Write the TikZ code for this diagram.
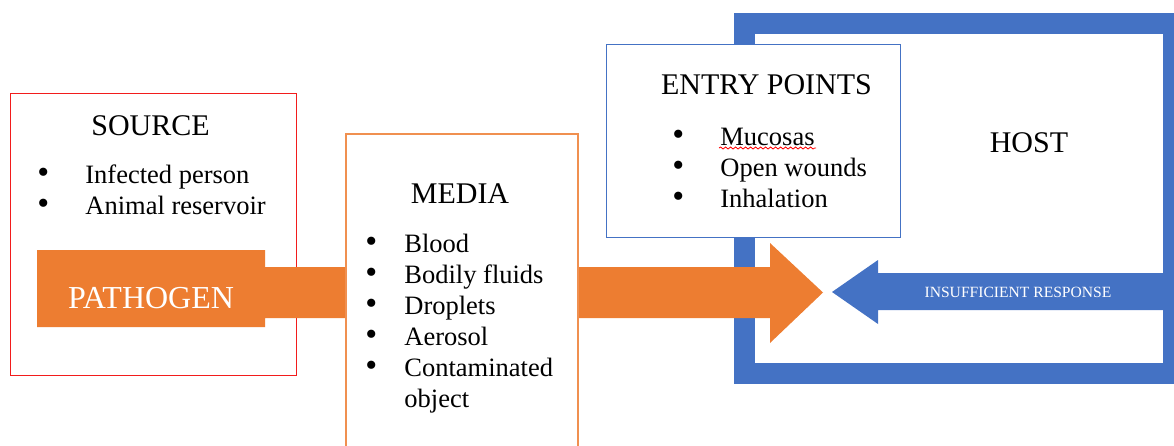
\documentclass[tikz,border=0pt]{standalone}
\usepackage{fontspec}
\setmainfont{Liberation Serif}
\usetikzlibrary{positioning,decorations.pathmorphing}
\definecolor{hostblue}{HTML}{4472C4}
\definecolor{pathorange}{HTML}{ED7D31}
\definecolor{srcred}{HTML}{F21C1C}
\newcommand{\itm}[2]{\makebox[#1][l]{\fontsize{17}{15}\selectfont\textbullet}#2}
\tikzset{
  box/.style={draw, fill=white, line width=0.7pt, inner sep=0pt, anchor=north west},
  hdr/.style={font=\fontsize{15}{18}\selectfont, anchor=base, inner sep=0pt},
  lst/.style={font=\fontsize{13.25}{15.5}\selectfont, align=left, anchor=base west, inner sep=0pt}
}
\begin{document}
\begin{tikzpicture}[x=0.5pt,y=-0.5pt]
	\useasboundingbox (0,0) rectangle (1174,445);
	% boxes
	\node[box, draw=srcred, minimum width=143pt, minimum height=141pt] (source) at (10,93) {};
	\draw[hostblue, line width=10.5pt] (744.5,23) rectangle (1173,373);
	% blue arrow
	\fill[hostblue] (1165,273) -- (878,273) -- (878,260) -- (832,292) -- (878,324) -- (878,310) -- (1165,310) -- cycle;
	% orange arrow
	\fill[pathorange] (37,250) -- (265,250) -- (265,267) -- (770,267) -- (770,243) -- (823,292.5)
		-- (770,343) -- (770,318) -- (265,318) -- (265,327) -- (37,327) -- cycle;
	\node[box, draw=pathorange!85, line width=0.9pt, minimum width=116pt, minimum height=164pt] (media) at (345,133) {};
	\node[box, draw=hostblue, minimum width=147pt, minimum height=96.5pt] (entry) at (606,44) {};
	% titles
	\node[hdr] (sourcetitle) at (150.5,135) {SOURCE};
	\node[hdr] (mediatitle) at (460,203) {MEDIA};
	\node[hdr] (entrytitle) at (766.5,94) {ENTRY POINTS};
	\node[hdr] (hosttitle) at (1029,152) {HOST};
	\node[hdr, font=\fontsize{16}{18}\selectfont, text=white] (pathogen) at (151,308) {PATHOGEN};
	\node[hdr, font=\fontsize{7.8}{9}\selectfont, text=white] (response) at (1018,297) {INSUFFICIENT RESPONSE};
	% lists (base = last line)
	\node[lst] (sourcelist) at (37,214) {\itm{24pt}{Infected person}\\ \itm{24pt}{Animal reservoir}};
	\node[lst] (medialist) at (365,407) {\itm{19.5pt}{Blood}\\ \itm{19.5pt}{Bodily fluids}\\ \itm{19.5pt}{Droplets}\\
		\itm{19.5pt}{Aerosol}\\ \itm{19.5pt}{Contaminated}\\ \hspace*{19.5pt}object};
	\node[lst] (entrylist) at (672,207) {\itm{24pt}{Mucosas}\\ \itm{24pt}{Open wounds}\\ \itm{24pt}{Inhalation}};
	\draw[red, line width=0.4pt, decorate, decoration={snake, amplitude=0.5pt, segment length=2.5pt}] (719,148) -- (816,148);
\end{tikzpicture}
\end{document}
